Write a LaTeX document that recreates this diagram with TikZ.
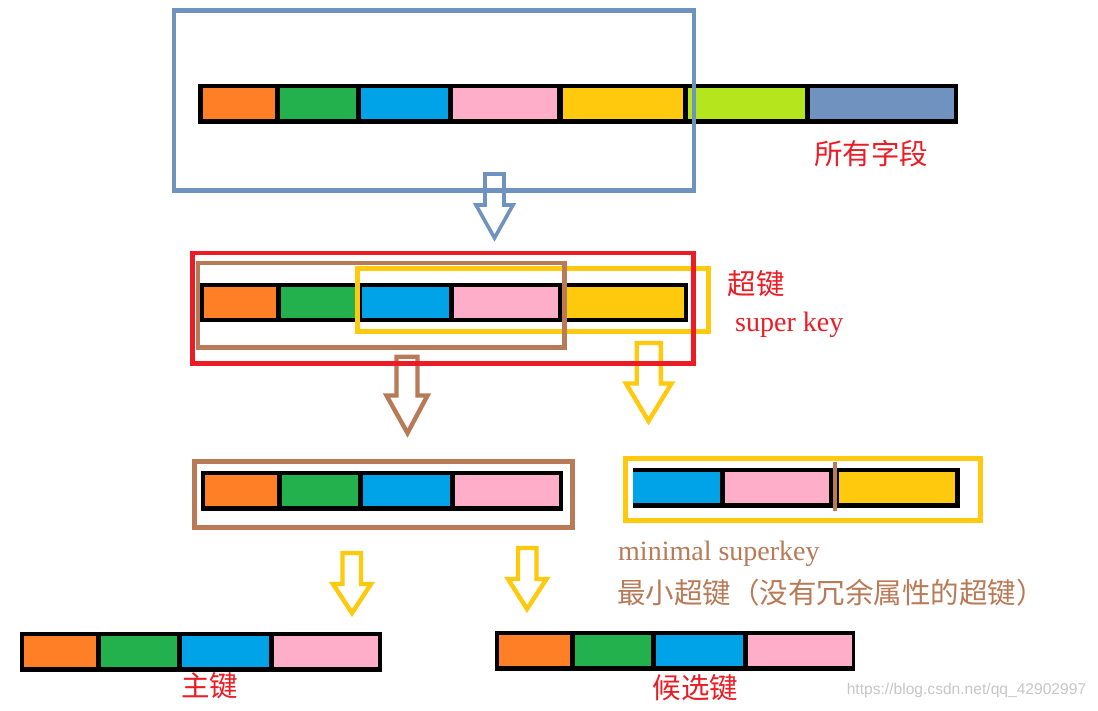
\documentclass[tikz,border=0pt]{standalone}
\usepackage{fontspec}
\setmainfont{Liberation Serif}
\newfontfamily\cjk{Noto Sans CJK SC}
\newfontfamily\wmfont{Liberation Sans}
\definecolor{cOrange}{HTML}{FF7F27}
\definecolor{cGreen}{HTML}{22B14C}
\definecolor{cBlue}{HTML}{00A2E8}
\definecolor{cPink}{HTML}{FFAEC9}
\definecolor{cYellow}{HTML}{FFC90E}
\definecolor{cLime}{HTML}{B5E61D}
\definecolor{cSteel}{HTML}{7092BE}
\definecolor{cRed}{HTML}{ED1C24}
\definecolor{cBrown}{HTML}{B97A57}
\tikzset{
  barbg/.style={fill=black},
  frame/.style={line width=4.6pt},
  blockarrow/.style={line width=4.4pt, line join=miter},
  cjklabel/.style={inner sep=0pt, anchor=west, font=\cjk\fontsize{28.5}{30}\selectfont},
  enlabel/.style={inner sep=0pt, anchor=base west, font=\fontsize{28}{30}\selectfont},
}
\begin{document}
\begin{tikzpicture}[x=1pt,y=-1pt]
\useasboundingbox (0,0) rectangle (1098,710);
\fill[white] (0,0) rectangle (1098,710);

% ---------- top row: all fields ----------
\fill[barbg] (198,84) rectangle (958,123.7);
\fill[cOrange] (203,88) rectangle (275,119.2);
\fill[cGreen]  (280,88) rectangle (356,119.2);
\fill[cBlue]   (361,88) rectangle (448,119.2);
\fill[cPink]   (453,88) rectangle (557,119.2);
\fill[cYellow] (562.5,88) rectangle (683,119.2);
\fill[cLime]   (688,88) rectangle (805,119.2);
\fill[cSteel]  (810,88) rectangle (953.5,119.2);
\draw[frame, cSteel, line width=4.2pt] (174,10.5) rectangle (693.6,190.5);
\draw[blockarrow, cSteel, line width=3.6pt]
  (485,174) -- (504,174) -- (504,205) -- (513,205) -- (494.5,238) -- (476,205) -- (485,205) -- cycle;
\node[cjklabel, text=cRed] (allfields) at (814,153.5) {所有字段};

% ---------- second row: super key ----------
\fill[barbg] (200.4,283.3) rectangle (688.4,322);
\fill[cOrange] (204,287.3) rectangle (276,317.7);
\fill[cGreen]  (281,287.3) rectangle (357,317.7);
\fill[cBlue]   (362,287.3) rectangle (448.6,317.7);
\fill[cPink]   (454,287.3) rectangle (558,317.7);
\fill[cYellow] (563,287.3) rectangle (684,317.7);
\draw[frame, cYellow] (357.7,268.5) rectangle (708.3,331.2);
\draw[frame, cBrown] (198,262.8) rectangle (564.4,347.3);
\draw[blockarrow, cBrown]
  (396.5,356.7) -- (417.5,356.7) -- (417.5,395.5) -- (427.5,395.5) -- (407.5,433) -- (386.5,395.5) -- (396.5,395.5) -- cycle;
\draw[blockarrow, cYellow]
  (636.7,343) -- (660.8,343) -- (660.8,383.5) -- (671.5,383.5) -- (648.5,421) -- (626,383.5) -- (636.7,383.5) -- cycle;
\draw[frame, cRed] (192.5,253) rectangle (693.3,363.3);
\node[cjklabel, text=cRed] (superzh) at (727.5,284) {超键};
\node[enlabel, text=cRed] (superen) at (735,331.5) {super key};

% ---------- third row ----------
\fill[barbg] (201,471) rectangle (563,511);
\fill[cOrange] (205,475) rectangle (277,505.7);
\fill[cGreen]  (282,475) rectangle (358,505.7);
\fill[cBlue]   (363,475) rectangle (450,505.7);
\fill[cPink]   (455,475) rectangle (559,505.7);
\draw[frame, cBrown] (194.7,461.7) rectangle (572.3,527.3);

\fill[barbg] (633,468) rectangle (960,507.7);
\fill[cBlue]   (633,472) rectangle (720,502.7);
\fill[cPink]   (725,472) rectangle (829.3,502.7);
\fill[cYellow] (838.7,472) rectangle (955,502.7);
\draw[cBrown, line width=4.6pt] (835,462) -- (835,510.7);
\draw[frame, cYellow, line width=5pt] (625.5,458.2) rectangle (980.2,520.3);

\node[enlabel, text=cBrown] (minen) at (618,560) {minimal superkey};
\node[cjklabel, text=cBrown] (minzh) at (617,593) {最小超键（没有冗余属性的超键）};

\draw[blockarrow, cYellow]
  (342.5,553) -- (361,553) -- (361,584) -- (371,584) -- (352,613) -- (333,584) -- (342.5,584) -- cycle;
\draw[blockarrow, cYellow]
  (518,548) -- (536.5,548) -- (536.5,579) -- (546.5,579) -- (527,609) -- (508,579) -- (518,579) -- cycle;

% ---------- bottom row ----------
\fill[barbg] (20,632.3) rectangle (381.7,671.7);
\fill[cOrange] (24,636.3) rectangle (96,667);
\fill[cGreen]  (101,636.3) rectangle (177,667);
\fill[cBlue]   (182,636.3) rectangle (269,667);
\fill[cPink]   (274,636.3) rectangle (377.7,667);
\node[cjklabel, text=cRed] (pk) at (181,686) {主键};

\fill[barbg] (494.6,631) rectangle (855.2,670.7);
\fill[cOrange] (498.5,635) rectangle (570,666);
\fill[cGreen]  (575,635) rectangle (650.7,666);
\fill[cBlue]   (656,635) rectangle (743,666);
\fill[cPink]   (748,635) rectangle (852,666);
\node[cjklabel, text=cRed] (ck) at (652.5,687.5) {候选键};

\node[inner sep=0pt, anchor=base west, text=black!22, font=\wmfont\fontsize{15.6}{17}\selectfont] (wm) at (846.6,694.7) {https://blog.csdn.net/qq\_42902997};
\end{tikzpicture}
\end{document}
